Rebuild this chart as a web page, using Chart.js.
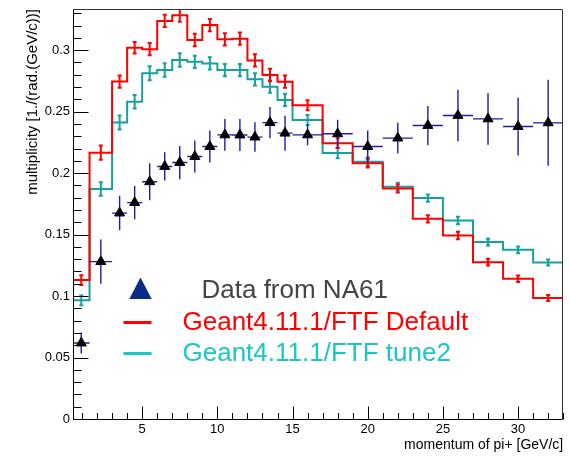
<!DOCTYPE html>
<html>
<head>
<meta charset="utf-8">
<script src="https://cdn.jsdelivr.net/npm/chart.js@4.4.1/dist/chart.umd.min.js"></script>
<style>
html,body{margin:0;padding:0;background:#fff;}
#wrap{width:570px;height:457px;position:relative;}
canvas{display:block;}
</style>
</head>
<body>
<div id="wrap"><canvas id="c" width="570" height="457"></canvas></div>
<script>
// ---- data ----
const binEdges = [0.4, 1.5, 3, 4, 5, 6, 7, 8, 9, 10, 11, 12, 13, 14, 15, 17, 19, 21, 23, 25, 27, 29, 31, 33];

const ftfDefault    = [0.113, 0.2166, 0.2745, 0.302, 0.3008, 0.3238, 0.3285, 0.3083, 0.3204, 0.3088, 0.3094, 0.2917, 0.2798, 0.2744, 0.2552, 0.2244, 0.2081, 0.1875, 0.1628, 0.1493, 0.1276, 0.1141, 0.0984];
const ftfDefaultErr = [0.004, 0.0058, 0.005, 0.0047, 0.005, 0.005, 0.0054, 0.005, 0.005, 0.005, 0.005, 0.005, 0.005, 0.005, 0.004, 0.004, 0.0035, 0.0032, 0.003, 0.003, 0.0028, 0.0027, 0.0025];

const ftfTune2      = [0.0965, 0.187, 0.2411, 0.258, 0.2812, 0.2838, 0.292, 0.2905, 0.2892, 0.2838, 0.2838, 0.2763, 0.2703, 0.2595, 0.2432, 0.2163, 0.2092, 0.189, 0.1797, 0.1615, 0.1439, 0.1376, 0.1273];
const ftfTune2Err   = [0.004, 0.0055, 0.0057, 0.0055, 0.0057, 0.0055, 0.0055, 0.005, 0.005, 0.005, 0.005, 0.005, 0.005, 0.005, 0.004, 0.0042, 0.0035, 0.0032, 0.003, 0.003, 0.0028, 0.0027, 0.0025];

const na61          = [0.0618, 0.128, 0.1675, 0.176, 0.193, 0.2054, 0.2086, 0.2135, 0.2216, 0.2311, 0.231, 0.2293, 0.2411, 0.2325, 0.2311, 0.232, 0.2216, 0.2285, 0.2387, 0.2469, 0.2441, 0.2379, 0.2409];
const na61Err       = [0.0085, 0.018, 0.014, 0.0135, 0.015, 0.0115, 0.0135, 0.013, 0.013, 0.013, 0.013, 0.012, 0.0127, 0.0142, 0.0085, 0.0115, 0.013, 0.0125, 0.016, 0.021, 0.021, 0.0235, 0.035];

const xTicks = [5, 10, 15, 20, 25, 30];
const xTickLabels = ['5', '10', '15', '20', '25', '30'];
const yTicks = [0, 0.05, 0.1, 0.15, 0.2, 0.25, 0.3];
const yTickLabels = ['0', '0.05', '0.1', '0.15', '0.2', '0.25', '0.3'];

const xTitle = 'momentum of pi+ [GeV/c]';
const yTitle = 'multiplicity [1./(rad.(GeV/c))]';
const legendLabels = ['Data from NA61', 'Geant4.11.1/FTF Default', 'Geant4.11.1/FTF tune2'];

// ---- derived point tables for the library ----
const centers = binEdges.slice(0, -1).map((lo, i) => (lo + binEdges[i + 1]) / 2);

function stepPoints(vals) {
  const pts = [];
  vals.forEach((v, i) => { pts.push({x: binEdges[i], y: v}, {x: binEdges[i + 1], y: v}); });
  return pts;
}
function vErrPoints(vals, errs) {
  const pts = [];
  vals.forEach((v, i) => {
    pts.push({x: centers[i], y: v - errs[i]}, {x: centers[i], y: v + errs[i]}, {x: centers[i], y: null});
  });
  return pts;
}
function dataErrPoints(vals, errs) {
  const pts = [];
  vals.forEach((v, i) => {
    pts.push({x: centers[i], y: v - errs[i]}, {x: centers[i], y: v + errs[i]}, {x: centers[i], y: null});
    pts.push({x: binEdges[i], y: v}, {x: binEdges[i + 1], y: v}, {x: binEdges[i + 1], y: null});
  });
  return pts;
}

const RED = '#ff0000';
const TEAL = '#17a0a0';
const TEAL_LEG = '#1cc6c4';
const NAVY = '#1c1ca6';
const FONT = '"Liberation Sans", Arial, Helvetica, sans-serif';

const frameAndTicks = {
  id: 'frameAndTicks',
  afterDraw(chart) {
    const ctx = chart.ctx;
    const a = chart.chartArea;
    const xs = chart.scales.x;
    const ys = chart.scales.y;
    const L = Math.round(a.left) + 0.5;
    const B = Math.round(a.bottom) + 0.5;
    const T = Math.round(a.top) + 0.5;
    const R = Math.round(a.right) - 0.5;
    ctx.save();
    ctx.strokeStyle = '#000000';
    ctx.lineWidth = 1;
    ctx.beginPath();
    for (let i = 0; i <= 33; i++) {
      const py = Math.round(ys.getPixelForValue(i / 100)) + 0.5;
      const len = (i % 5 === 0) ? 15 : 8;
      ctx.moveTo(L, py);
      ctx.lineTo(L + len, py);
    }
    for (let i = 1; i <= 33; i++) {
      const px = Math.round(xs.getPixelForValue(i)) + 0.5;
      const len = (i % 5 === 0) ? 13 : 6.5;
      ctx.moveTo(px, B);
      ctx.lineTo(px, B - len);
    }
    ctx.stroke();
    ctx.beginPath();
    ctx.moveTo(L, T);
    ctx.lineTo(L, B);
    ctx.lineTo(R, B);
    ctx.stroke();
    ctx.strokeStyle = '#333333';
    ctx.beginPath();
    ctx.moveTo(L, T);
    ctx.lineTo(R, T);
    ctx.lineTo(R, B);
    ctx.stroke();

    // legend
    ctx.fillStyle = '#0b2c86';
    ctx.beginPath();
    ctx.moveTo(140.5, 277.5);
    ctx.lineTo(151.7, 299);
    ctx.lineTo(129.3, 299);
    ctx.closePath();
    ctx.fill();
    ctx.lineWidth = 3;
    ctx.strokeStyle = RED;
    ctx.beginPath(); ctx.moveTo(123.5, 322.5); ctx.lineTo(151.5, 322.5); ctx.stroke();
    ctx.strokeStyle = TEAL_LEG;
    ctx.beginPath(); ctx.moveTo(123.5, 353.5); ctx.lineTo(151.5, 353.5); ctx.stroke();
    ctx.font = '26px ' + FONT;
    ctx.textBaseline = 'alphabetic';
    ctx.textAlign = 'left';
    ctx.fillStyle = '#444444';
    ctx.fillText(legendLabels[0], 201.5, 298);
    ctx.fillStyle = RED;
    ctx.fillText(legendLabels[1], 182.5, 330);
    ctx.fillStyle = TEAL_LEG;
    ctx.fillText(legendLabels[2], 182.5, 361);
    ctx.restore();
  }
};

new Chart(document.getElementById('c'), {
  type: 'line',
  data: {
    datasets: [
      { // NA61 markers
        label: legendLabels[0],
        data: centers.map((c, i) => ({x: c, y: na61[i]})),
        showLine: false,
        pointStyle: 'triangle',
        pointRadius: 5.8,
        pointBackgroundColor: '#000',
        pointBorderColor: '#000',
        pointBorderWidth: 1
      },
      { // NA61 error bars
        data: dataErrPoints(na61, na61Err),
        borderColor: NAVY,
        borderWidth: 1.4,
        pointRadius: 0,
        spanGaps: false
      },
      { // default errors
        data: vErrPoints(ftfDefault, ftfDefaultErr),
        borderColor: RED,
        borderWidth: 2,
        pointStyle: 'line',
        pointRadius: 2,
        pointBorderWidth: 2,
        pointBorderColor: RED,
        spanGaps: false
      },
      { // default histogram
        label: legendLabels[1],
        data: stepPoints(ftfDefault),
        borderColor: RED,
        borderWidth: 2,
        pointRadius: 0,
        fill: false
      },
      { // tune2 errors
        data: vErrPoints(ftfTune2, ftfTune2Err),
        borderColor: TEAL,
        borderWidth: 2,
        pointStyle: 'line',
        pointRadius: 2,
        pointBorderWidth: 2,
        pointBorderColor: TEAL,
        spanGaps: false
      },
      { // tune2 histogram
        label: legendLabels[2],
        data: stepPoints(ftfTune2),
        borderColor: TEAL,
        borderWidth: 2,
        pointRadius: 0,
        fill: false
      }
    ]
  },
  options: {
    responsive: false,
    devicePixelRatio: 1,
    animation: false,
    events: [],
    layout: {padding: {left: 0, top: 9, right: 2, bottom: 0}},
    plugins: {legend: {display: false}, tooltip: {enabled: false}},
    elements: {line: {tension: 0}},
    scales: {
      x: {
        type: 'linear',
        min: binEdges[0],
        max: binEdges[binEdges.length - 1],
        afterFit(s) { s.height = 38; s.paddingLeft = 0; s.paddingRight = 0; },
        afterBuildTicks(s) { s.ticks = xTicks.map(v => ({value: v})); },
        grid: {display: false, drawTicks: false},
        border: {display: false},
        ticks: {
          padding: 3,
          color: '#000',
          font: {family: FONT, size: 13},
          maxRotation: 0,
          autoSkip: false,
          callback: (v) => { const k = xTicks.indexOf(v); return k >= 0 ? xTickLabels[k] : ''; }
        },
        title: {
          display: true, text: xTitle, align: 'end', color: '#000',
          font: {family: FONT, size: 14}, padding: {top: 0, bottom: 3.6}
        }
      },
      y: {
        type: 'linear',
        min: 0,
        max: 0.3335,
        afterFit(s) { s.width = 73; s.paddingTop = 0; s.paddingBottom = 0; },
        afterBuildTicks(s) { s.ticks = yTicks.map(v => ({value: v})); },
        grid: {display: false, drawTicks: false},
        border: {display: false},
        ticks: {
          padding: 3,
          color: '#000',
          font: {family: FONT, size: 13},
          autoSkip: false,
          callback: (v) => { const k = yTicks.findIndex(t => Math.abs(t - v) < 1e-9); return k >= 0 ? yTickLabels[k] : ''; }
        },
        title: {
          display: true, text: yTitle, align: 'end', color: '#000',
          font: {family: FONT, size: 15}, padding: {top: 24, bottom: 0}
        }
      }
    }
  },
  plugins: [frameAndTicks]
});
</script>
</body>
</html>
